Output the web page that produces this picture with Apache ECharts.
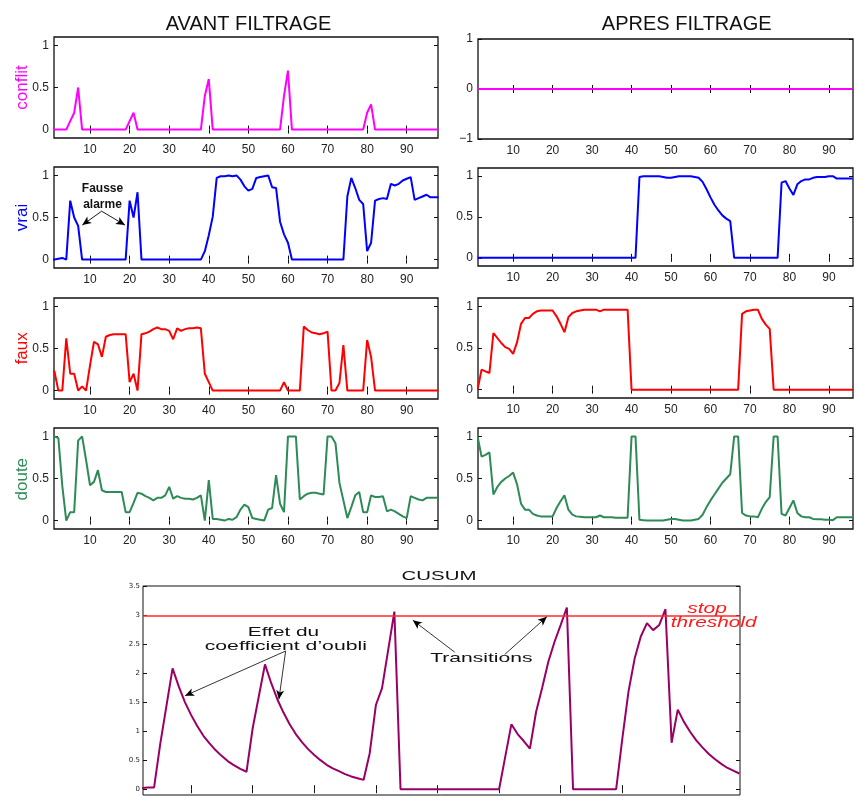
<!DOCTYPE html>
<html><head><meta charset="utf-8">
<script src="https://cdn.jsdelivr.net/npm/echarts@6/dist/echarts.min.js"></script>
<style>html,body{margin:0;padding:0;background:#fff}#c{width:854px;height:796px}</style>
</head><body><div id="c"></div>
<script>
// ---------- tick labels ----------
const xTicks = [10,20,30,40,50,60,70,80,90];
const yTicksUnit = [0,0.5,1];
const yTicksConflitApres = [-1,0,1];
const yTicksCusum = [0,0.5,1,1.5,2,2.5,3,3.5];

// ---------- AVANT FILTRAGE (x = 0..98) ----------
const conflitAvant = [
 0,0,0,0,0,0.1,0.2,0.5,0,0,
 0,0,0,0,0,0,0,0,0,0,
 0.1,0.2,0,0,0,0,0,0,0,0,
 0,0,0,0,0,0,0,0,0,0.4,
 0.6,0,0,0,0,0,0,0,0,0,
 0,0,0,0,0,0,0,0,0,0.4,
 0.7,0,0,0,0,0,0,0,0,0,
 0,0,0,0,0,0,0,0,0,0,
 0.2,0.3,0,0,0,0,0,0,0,0,
 0,0,0,0,0,0,0,0,0];
const vraiAvant = [
 0,0,0.01,0.02,0,0.70,0.50,0.40,0,0,
 0,0,0,0,0,0,0,0,0,0,
 0.70,0.50,0.80,0,0,0,0,0,0,0,
 0,0,0,0,0,0,0,0,0,0.10,
 0.29,0.51,0.97,0.99,0.99,1.0,0.99,1.0,0.95,0.87,
 0.82,0.84,0.97,0.98,0.99,1.0,0.86,0.85,0.45,0.30,
 0.20,0,0,0,0,0,0,0,0,0,
 0,0,0,0,0,0.75,0.97,0.85,0.71,0.66,
 0.10,0.20,0.70,0.72,0.73,0.72,0.90,0.88,0.90,0.94,
 0.96,0.98,0.71,0.73,0.75,0.77,0.74,0.74,0.74];
const fauxAvant = [
 0.23,0.23,0,0,0.62,0.20,0.20,0,0.05,0,
 0.30,0.58,0.55,0.40,0.64,0.66,0.67,0.67,0.67,0.67,
 0.10,0.20,0,0.67,0.68,0.70,0.73,0.75,0.73,0.73,
 0.71,0.61,0.74,0.71,0.73,0.74,0.74,0.75,0.74,0.20,
 0.10,0,0,0,0,0,0,0,0,0,
 0,0,0,0,0,0,0,0,0,0.10,
 0,0,0,0,0.76,0.72,0.69,0.68,0.67,0.68,
 0.70,0,0,0.09,0.54,0,0,0,0,0,
 0.60,0.40,0,0,0,0,0,0,0,0,
 0,0,0,0,0,0,0,0,0];
const douteAvant = [
 0.77,1.0,0.98,0.41,0,0.10,0.10,0.95,1.0,0.72,
 0.42,0.46,0.60,0.36,0.34,0.34,0.34,0.34,0.34,0.10,
 0.10,0.21,0.33,0.32,0.29,0.27,0.24,0.27,0.27,0.30,
 0.40,0.26,0.29,0.27,0.26,0.26,0.25,0.27,0.30,0,
 0.48,0.02,0.02,0.01,0,0.02,0.01,0.04,0.13,0.19,
 0.16,0.03,0.02,0.01,0,0.13,0.15,0.54,0.20,0.10,
 1.0,1.0,1.0,0.25,0.29,0.32,0.33,0.33,0.32,0.31,
 1.0,1.0,0.92,0.45,0.24,0.03,0.16,0.30,0.34,0.10,
 0.10,0.30,0.28,0.28,0.29,0.11,0.13,0.11,0.08,0.05,
 0.03,0.29,0.27,0.25,0.24,0.27,0.27,0.27,0.27];

// ---------- APRES FILTRAGE (x = 1..96) ----------
const conflitApres = [
 0,0,0,0,0,0,0,0,0,0, 0,0,0,0,0,0,0,0,0,0,
 0,0,0,0,0,0,0,0,0,0, 0,0,0,0,0,0,0,0,0,0,
 0,0,0,0,0,0,0,0,0,0, 0,0,0,0,0,0,0,0,0,0,
 0,0,0,0,0,0,0,0,0,0, 0,0,0,0,0,0,0,0,0,0,
 0,0,0,0,0,0,0,0,0,0, 0,0,0,0,0,0];
const vraiApres = [
 0,0,0,0,0,0,0,0,0,0,
 0,0,0,0,0,0,0,0,0,0,
 0,0,0,0,0,0,0,0,0,0,
 0,0,0,0,0,0,0,0,0,0,
 0,0.99,1.0,1.0,1.0,1.0,1.0,0.99,0.98,0.98,
 0.99,1.0,1.0,1.0,1.0,0.99,0.98,0.93,0.84,0.74,
 0.65,0.58,0.52,0.48,0.45,0,0,0,0,0,
 0,0,0,0,0,0,0,0.92,0.94,0.85,
 0.77,0.90,0.94,0.96,0.96,0.98,0.99,0.99,0.99,1.0,
 1.0,0.97,0.97,0.97,0.97,0.97];
const fauxApres = [
 0,0.24,0.22,0.20,0.68,0.62,0.56,0.51,0.49,0.43,
 0.57,0.79,0.86,0.86,0.91,0.94,0.95,0.95,0.95,0.95,
 0.88,0.79,0.69,0.87,0.92,0.94,0.95,0.96,0.96,0.96,
 0.96,0.94,0.96,0.96,0.96,0.96,0.96,0.96,0.96,0,
 0,0,0,0,0,0,0,0,0,0,
 0,0,0,0,0,0,0,0,0,0,
 0,0,0,0,0,0,0,0.91,0.94,0.95,
 0.96,0.96,0.85,0.78,0.73,0,0,0,0,0,
 0,0,0,0,0,0,0,0,0,0,
 0,0,0,0,0,0];
const douteApres = [
 1.0,0.76,0.78,0.81,0.31,0.40,0.46,0.50,0.53,0.57,
 0.43,0.20,0.13,0.13,0.08,0.06,0.05,0.05,0.05,0.05,
 0.15,0.23,0.30,0.13,0.07,0.05,0.045,0.04,0.04,0.04,
 0.04,0.06,0.04,0.04,0.04,0.035,0.035,0.035,0.035,1.0,
 1.0,0.01,0.005,0,0,0,0,0,0.01,0.02,
 0.02,0.01,0,0,0,0.01,0.02,0.07,0.16,0.24,
 0.31,0.38,0.45,0.50,0.55,1.0,1.0,0.09,0.06,0.05,
 0.05,0.04,0.14,0.22,0.28,1.0,1.0,0.08,0.06,0.15,
 0.24,0.09,0.05,0.04,0.04,0.02,0.015,0.015,0.01,0.01,
 0.005,0.04,0.04,0.04,0.04,0.04];

// ---------- CUSUM (x = 2..99) ----------
const cusum = [
 0.02,0.03,0.03,0.78,1.43,2.08,1.77,1.50,1.28,1.09,
 0.92,0.79,0.67,0.57,0.48,0.41,0.35,0.30,1.05,1.60,
 2.15,1.83,1.55,1.32,1.12,0.95,0.81,0.69,0.59,0.50,
 0.42,0.36,0.31,0.26,0.22,0.19,0.16,0.62,1.45,1.74,
 2.40,3.06,0,0,0,0,0,0,0,0,
 0,0,0,0,0,0,0,0,0,0.56,
 1.12,0.95,0.83,0.70,1.33,1.75,2.20,2.54,2.83,3.13,
 0,0,0,0,0,0,0,0,0.87,1.68,
 2.25,2.63,2.86,2.74,2.83,3.10,0.80,1.37,1.16,0.99,
 0.84,0.72,0.61,0.52,0.44,0.37,0.32,0.27];
const stopThreshold = 2.98;

// ---------- annotation arrows (data coordinates) ----------
const fausseArrows = [[[12.94,0.575],[8.05,0.41]], [[12.94,0.575],[18.83,0.41]]];
const effetArrows = [[[25.35,2.38],[9.03,1.61]], [[25.35,2.38],[24.26,1.55]]];
const transArrows = [[[52.8,2.36],[46.0,2.91]], [[60.9,2.32],[67.75,2.97]]];

const FONT = 'Liberation Sans, Arial, Helvetica, sans-serif';
const pairs = (arr, start) => arr.map((v, i) => [start + i, v]);
const minusFmt = v => (v < 0 ? '\u2212' + Math.abs(v) : String(v));

const grids = [], xAxes = [], yAxes = [], series = [];

function addPanel(box, xr, yr, opt) {
  opt = opt || {};
  const gi = grids.length;
  grids.push({left: box[0], top: box[1], width: box[2], height: box[3], show: true,
    borderColor: '#111', borderWidth: opt.border || 1.3, backgroundColor: '#fff', containLabel: false});
  const tick = {show: true, inside: true, length: 4, lineStyle: {color: '#111', width: 1}};
  const baseX = {type: 'value', gridIndex: gi, min: xr[0], max: xr[1], axisLine: {show: false}, splitLine: {show: false}};
  xAxes.push(Object.assign({}, baseX, {position: 'bottom',
    axisTick: Object.assign({}, tick, {customValues: xTicks}),
    axisLabel: {show: opt.xLabels !== false, customValues: xTicks, fontSize: 12, color: '#222', fontFamily: FONT, margin: 6}}));
  xAxes.push(Object.assign({}, baseX, {position: 'top',
    axisTick: Object.assign({}, tick, {customValues: xTicks}), axisLabel: {show: false}}));
  const baseY = {type: 'value', gridIndex: gi, min: yr[0], max: yr[1], axisLine: {show: false}, splitLine: {show: false}};
  yAxes.push(Object.assign({}, baseY, {position: 'left',
    axisTick: Object.assign({}, tick, {customValues: yr[2]}),
    axisLabel: {customValues: yr[2], fontSize: opt.yFont || 12, color: '#222', fontFamily: opt.yFamily || FONT, margin: opt.yMargin || 5, formatter: minusFmt}}));
  yAxes.push(Object.assign({}, baseY, {position: 'right',
    axisTick: Object.assign({}, tick, {customValues: yr[2]}), axisLabel: {show: false}}));
  return 2 * gi;
}

function addLine(ax, data, color, extra) {
  series.push(Object.assign({type: 'line', xAxisIndex: ax, yAxisIndex: ax, data: data,
    showSymbol: false, symbol: 'none', clip: true, animation: false, z: 3,
    lineStyle: {color: color, width: 2}, itemStyle: {color: color}}, extra || {}));
}

function arrowMarks(list) {
  return list.map(a => [{coord: a[0], symbol: 'none'}, {coord: a[1], symbol: 'arrow', symbolSize: [6, 9]}]);
}

const MAG = '#ff00ff', BLUE = '#0000ff', RED = '#ff0000', GREEN = '#2e8b57', PURPLE = '#990066';
const leftX = [0.9, 97.9], rightX = [1.1, 96.1];
const unitY = [-0.1, 1.1, yTicksUnit];

// left column
let a;
a = addPanel([54, 37, 384, 101], leftX, unitY); addLine(a, pairs(conflitAvant, 0), MAG);
a = addPanel([54, 167, 384, 101], leftX, unitY);
addLine(a, pairs(vraiAvant, 0), BLUE, {markLine: {silent: true, animation: false, symbol: ['none', 'none'],
  label: {show: false}, lineStyle: {color: '#000', width: 0.9, type: 'solid'}, data: arrowMarks(fausseArrows)}});
a = addPanel([54, 298, 384, 101], leftX, unitY); addLine(a, pairs(fauxAvant, 0), RED);
a = addPanel([54, 428, 384, 101], leftX, unitY); addLine(a, pairs(douteAvant, 0), GREEN);
// right column
a = addPanel([478, 39, 375, 100], rightX, [-1, 1, yTicksConflitApres]); addLine(a, pairs(conflitApres, 1), MAG);
a = addPanel([478, 168, 375, 98], rightX, unitY); addLine(a, pairs(vraiApres, 1), BLUE);
a = addPanel([478, 298, 375, 100], rightX, unitY); addLine(a, pairs(fauxApres, 1), RED);
a = addPanel([478, 428, 375, 101], rightX, unitY); addLine(a, pairs(douteApres, 1), GREEN);
// CUSUM
a = addPanel([143, 586, 597, 209], [2.2, 99.1], [-0.1, 3.5, yTicksCusum],
  {xLabels: false, yFont: 7, yFamily: 'DejaVu Sans, sans-serif', yMargin: 3, border: 1});
const markData = [{yAxis: stopThreshold, lineStyle: {color: '#ff2a2a', width: 1.6, type: 'solid'}, symbol: 'none'}]
  .concat(arrowMarks(effetArrows)).concat(arrowMarks(transArrows));
addLine(a, pairs(cusum, 2), PURPLE, {markLine: {silent: true, animation: false, symbol: ['none', 'none'],
  label: {show: false}, lineStyle: {color: '#000', width: 0.8, type: 'solid'}, data: markData}});

function txt(t, x, y, o) {
  o = o || {};
  return {type: 'text', x: x, y: y, rotation: o.rot || 0, scaleX: o.sx || 1, z: 100,
    style: {text: t, fontSize: o.size || 12, fontFamily: o.family || FONT, fontWeight: o.weight || 'normal',
      fontStyle: o.style || 'normal', fill: o.fill || '#111',
      textAlign: 'center', textVerticalAlign: 'middle', align: 'center', verticalAlign: 'middle'}};
}

const graphics = [
  txt('AVANT FILTRAGE', 248.5, 24.5, {size: 20}),
  txt('APRES FILTRAGE', 686.7, 24.5, {size: 20}),
  txt('conflit', 22, 87.5, {size: 17, fill: MAG, rot: Math.PI / 2}),
  txt('vrai', 22, 217.5, {size: 17, fill: BLUE, rot: Math.PI / 2}),
  txt('faux', 22, 348.3, {size: 17, fill: RED, rot: Math.PI / 2}),
  txt('doute', 22, 479.2, {size: 17, fill: GREEN, rot: Math.PI / 2}),
  txt('Fausse', 102.5, 189, {size: 12, weight: 'bold'}),
  txt('alarme', 102.5, 204.5, {size: 12, weight: 'bold'}),
  txt('CUSUM', 439, 577, {size: 12, sx: 1.7}),
  txt('Effet du', 283.5, 632, {size: 13, sx: 1.6}),
  txt('coefficient d\u2019oubli', 285.8, 646, {size: 13, sx: 1.63}),
  txt('Transitions', 481.3, 658, {size: 13, sx: 1.62}),
  txt('stop', 707, 609, {size: 14, sx: 1.5, style: 'italic', fill: '#ff1a1a'}),
  txt('threshold', 713.7, 623, {size: 14, sx: 1.49, style: 'italic', fill: '#ff1a1a'})
];

const chart = echarts.init(document.getElementById('c'), null, {renderer: 'canvas'});
chart.setOption({
  animation: false,
  backgroundColor: '#fff',
  grid: grids, xAxis: xAxes, yAxis: yAxes, series: series,
  graphic: graphics
});
</script>
</body></html>
